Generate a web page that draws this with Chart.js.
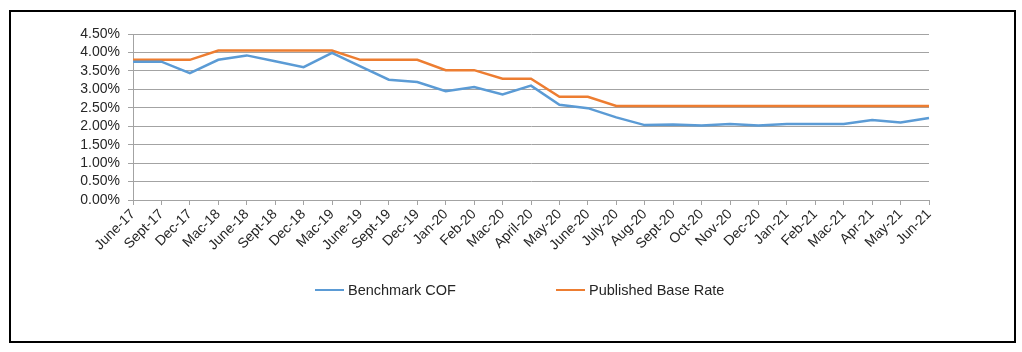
<!DOCTYPE html>
<html>
<head>
<meta charset="utf-8">
<script src="https://cdn.jsdelivr.net/npm/chart.js@4"></script>
<style>
  body { margin: 0; background: #fff; font-family: "Liberation Sans", Arial, sans-serif; }
  #wrap { position: absolute; left: 0; top: 0; width: 1022px; height: 352px; }
  #frame { position: absolute; left: 9px; top: 10px; width: 1007px; height: 333px;
           box-sizing: border-box; border: 2px solid #000; pointer-events: none; }
  #legend { position: absolute; left: 315px; top: 282px; display: flex; gap: 100px;
            font-size: 14.5px; color: #262626; }
  .item { display: flex; align-items: center; }
  .item i { display: inline-block; width: 29px; height: 2.5px; margin-right: 4px; }
</style>
</head>
<body>
<div id="wrap"><canvas id="chart_cof"></canvas></div>
<div id="frame"></div>
<div id="legend"></div>
<script>
// categories on the x axis
const periods = [
  "June-17", "Sept-17", "Dec-17", "Mac-18", "June-18", "Sept-18", "Dec-18",
  "Mac-19", "June-19", "Sept-19", "Dec-19", "Jan-20", "Feb-20", "Mac-20",
  "April-20", "May-20", "June-20", "July-20", "Aug-20", "Sept-20", "Oct-20",
  "Nov-20", "Dec-20", "Jan-21", "Feb-21", "Mac-21", "Apr-21", "May-21", "Jun-21",
];

// values in percent
const benchmarkCOF = [
  3.75, 3.75, 3.44, 3.80, 3.92, 3.76, 3.60, 3.99, 3.62, 3.26, 3.20, 2.95, 3.06, 2.86,
  3.10, 2.58, 2.49, 2.24, 2.03, 2.05, 2.02, 2.06, 2.02, 2.06, 2.06, 2.06, 2.17, 2.10, 2.22,
];
const publishedBaseRate = [
  3.80, 3.80, 3.80, 4.05, 4.05, 4.05, 4.05, 4.05, 3.80, 3.80, 3.80, 3.52, 3.52, 3.29,
  3.29, 2.80, 2.80, 2.55, 2.55, 2.55, 2.55, 2.55, 2.55, 2.55, 2.55, 2.55, 2.55, 2.55, 2.55,
];

const yMin = 0;
const yMax = 4.5;
const yStep = 0.5;

const gridColor = "#a3a3a3";
const textColor = "#262626";

Chart.defaults.font.family = '"Liberation Sans", Arial, sans-serif';
Chart.defaults.font.size = 14;
Chart.defaults.color = textColor;

const ctx = document.getElementById("chart_cof").getContext("2d");
const chartCof = new Chart(ctx, {
  type: "line",
  data: {
    labels: periods,
    datasets: [
      {
        label: "Benchmark COF",
        data: benchmarkCOF,
        borderColor: "#5b9bd5",
        backgroundColor: "#5b9bd5",
        borderWidth: 2.5,
        pointRadius: 0,
        tension: 0,
      },
      {
        label: "Published Base Rate",
        data: publishedBaseRate,
        borderColor: "#ed7d31",
        backgroundColor: "#ed7d31",
        borderWidth: 2.5,
        pointRadius: 0,
        tension: 0,
      },
    ],
  },
  options: {
    responsive: true,
    maintainAspectRatio: false,
    animation: false,
    layout: {
      padding: { left: 0, right: 93, top: 34, bottom: 52 },
    },
    scales: {
      x: {
        offset: false,
        grid: {
          drawOnChartArea: false,
          drawTicks: true,
          tickLength: 5,
          color: gridColor,
        },
        border: { display: true, color: gridColor },
        ticks: {
          autoSkip: false,
          maxRotation: 45,
          minRotation: 45,
          padding: 1,
        },
        afterFit: (scale) => {
          scale.height = 100;
        },
      },
      y: {
        min: yMin,
        max: yMax,
        grid: {
          color: gridColor,
          tickLength: 5,
        },
        border: { display: true, color: gridColor },
        ticks: {
          autoSkip: false,
          stepSize: yStep,
          padding: 8,
          callback: (value) => value.toFixed(2) + "%",
        },
        afterFit: (scale) => {
          scale.width = 133;
        },
      },
    },
    plugins: {
      legend: { display: false },
      tooltip: { enabled: false },
    },
  },
});

// html legend built from the datasets
const legendEl = document.getElementById("legend");
chartCof.data.datasets.forEach((ds) => {
  const item = document.createElement("span");
  item.className = "item";
  const swatch = document.createElement("i");
  swatch.style.background = ds.borderColor;
  item.appendChild(swatch);
  item.appendChild(document.createTextNode(ds.label));
  legendEl.appendChild(item);
});
</script>
</body>
</html>
